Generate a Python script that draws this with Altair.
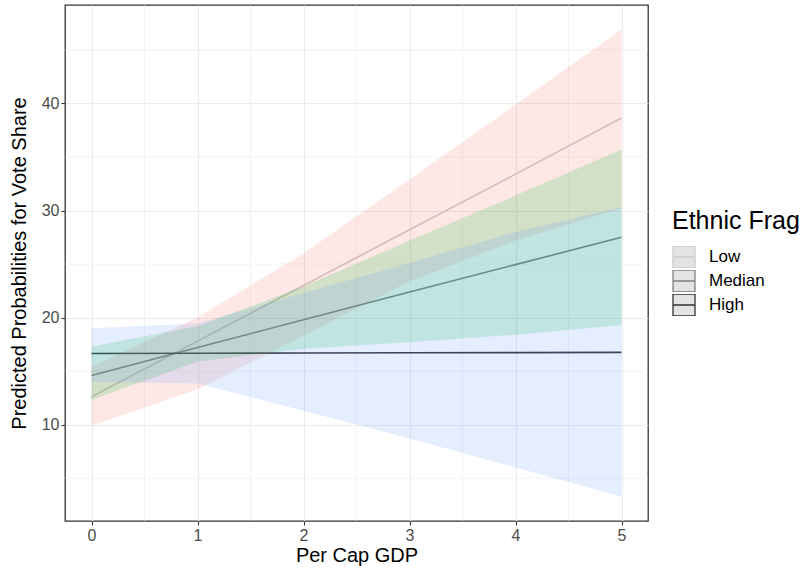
import altair as alt
import pandas as pd

# Predicted vote share by per-capita GDP, for three levels of ethnic fragmentation
gdp = [0, 1, 2, 3, 4, 5]
groups = ["Low", "Median", "High"]

low_fit = [12.6, 17.8, 23.0, 28.2, 33.4, 38.65]
low_lo = [9.9, 13.3, 18.3, 23.4, 27.2, 30.2]
low_hi = [15.4, 20.0, 26.0, 32.9, 39.9, 46.9]

med_fit = [14.6, 17.2, 19.8, 22.4, 24.95, 27.5]
med_lo = [12.3, 15.9, 17.1, 17.7, 18.4, 19.3]
med_hi = [17.3, 19.2, 22.9, 27.2, 31.4, 35.7]

high_fit = [16.65, 16.67, 16.69, 16.71, 16.73, 16.75]
high_lo = [14.0, 13.85, 11.3, 8.7, 6.0, 3.3]
high_hi = [19.0, 19.45, 22.3, 25.1, 28.0, 30.3]

x_ticks = [0, 1, 2, 3, 4, 5]
y_ticks = [10, 20, 30, 40]
x_minor = [0.5, 1.5, 2.5, 3.5, 4.5]
y_minor = [5, 15, 25, 35, 45]

series = {
    "Low": (low_fit, low_lo, low_hi),
    "Median": (med_fit, med_lo, med_hi),
    "High": (high_fit, high_lo, high_hi),
}
rows = []
for g in groups:
    fit, lo, hi = series[g]
    for xi, f, l, h in zip(gdp, fit, lo, hi):
        rows.append({"gdp": xi, "frag": g, "fit": f, "lo": l, "hi": h})
df = pd.DataFrame(rows)

FONT = "Liberation Sans"
x_scale = alt.Scale(domain=[-0.25, 5.25], nice=False, zero=False)
y_scale = alt.Scale(domain=[1.0, 49.2], nice=False, zero=False)

x_enc = alt.X(
    "gdp:Q", scale=x_scale, title="Per Cap GDP",
    axis=alt.Axis(values=x_ticks, format="d", grid=True, gridColor="#EBEBEB",
                  gridWidth=1.1, titlePadding=2),
)
y_enc = alt.Y(
    "fit:Q", scale=y_scale, title="Predicted Probabilities for Vote Share",
    axis=alt.Axis(values=y_ticks, format="d", grid=True, gridColor="#EBEBEB",
                  gridWidth=1.1, titlePadding=12),
)

minor_x = alt.Chart(pd.DataFrame({"v": x_minor})).mark_rule(
    color="#EBEBEB", strokeWidth=0.6
).encode(x=alt.X("v:Q", scale=x_scale))
minor_y = alt.Chart(pd.DataFrame({"v": y_minor})).mark_rule(
    color="#EBEBEB", strokeWidth=0.6
).encode(y=alt.Y("v:Q", scale=y_scale))

base = alt.Chart(df)

lines = base.mark_line(strokeWidth=1.6).encode(
    x=x_enc,
    y=y_enc,
    color=alt.Color(
        "frag:N",
        scale=alt.Scale(domain=groups, range=["#CCCCCC", "#7F7F7F", "#333333"]),
        sort=groups,
        legend=alt.Legend(
            title="Ethnic Frag",
            orient="none",
            legendX=607,
            legendY=204,
            symbolType="M-1,-1H1V1H-1Z M-1,0H1",
            symbolSize=484,
            symbolFillColor="#E3E3E3",
            symbolStrokeWidth=1.3,
            clipHeight=22,
            rowPadding=2,
            labelFontSize=17,
            labelColor="#000000",
            labelFont=FONT,
            titleFontSize=25,
            titleFontWeight="normal",
            titleFont=FONT,
            titleColor="#000000",
            titlePadding=12,
            labelOffset=13,
        ),
    ),
    detail="frag:N",
)

ribbons = base.mark_area(opacity=0.17).encode(
    x=alt.X("gdp:Q", scale=x_scale),
    y=alt.Y("lo:Q", scale=y_scale),
    y2="hi:Q",
    fill=alt.Fill(
        "frag:N",
        scale=alt.Scale(domain=groups, range=["#F8766D", "#00BA38", "#619CFF"]),
        legend=None,
    ),
)

chart = (
    alt.layer(minor_x, minor_y, lines, ribbons)
    .resolve_scale(color="independent")
    .properties(
        width=583,
        height=516,
        background="white",
        autosize=alt.AutoSizeParams(type="none"),
        padding={"left": 65, "top": 5, "right": 156, "bottom": 55},
    )
    .configure_view(stroke="#333333", strokeWidth=1.3)
    .configure_axis(
        domain=False,
        tickColor="#333333",
        tickSize=4,
        tickWidth=1.1,
        labelFont=FONT,
        labelFontSize=16,
        labelColor="#4D4D4D",
        labelPadding=2,
        titleFont=FONT,
        titleFontSize=20,
        titleFontWeight="normal",
        titleColor="#000000",
    )
)

chart.save("out.html", embed_options={"renderer": "svg", "actions": False})
